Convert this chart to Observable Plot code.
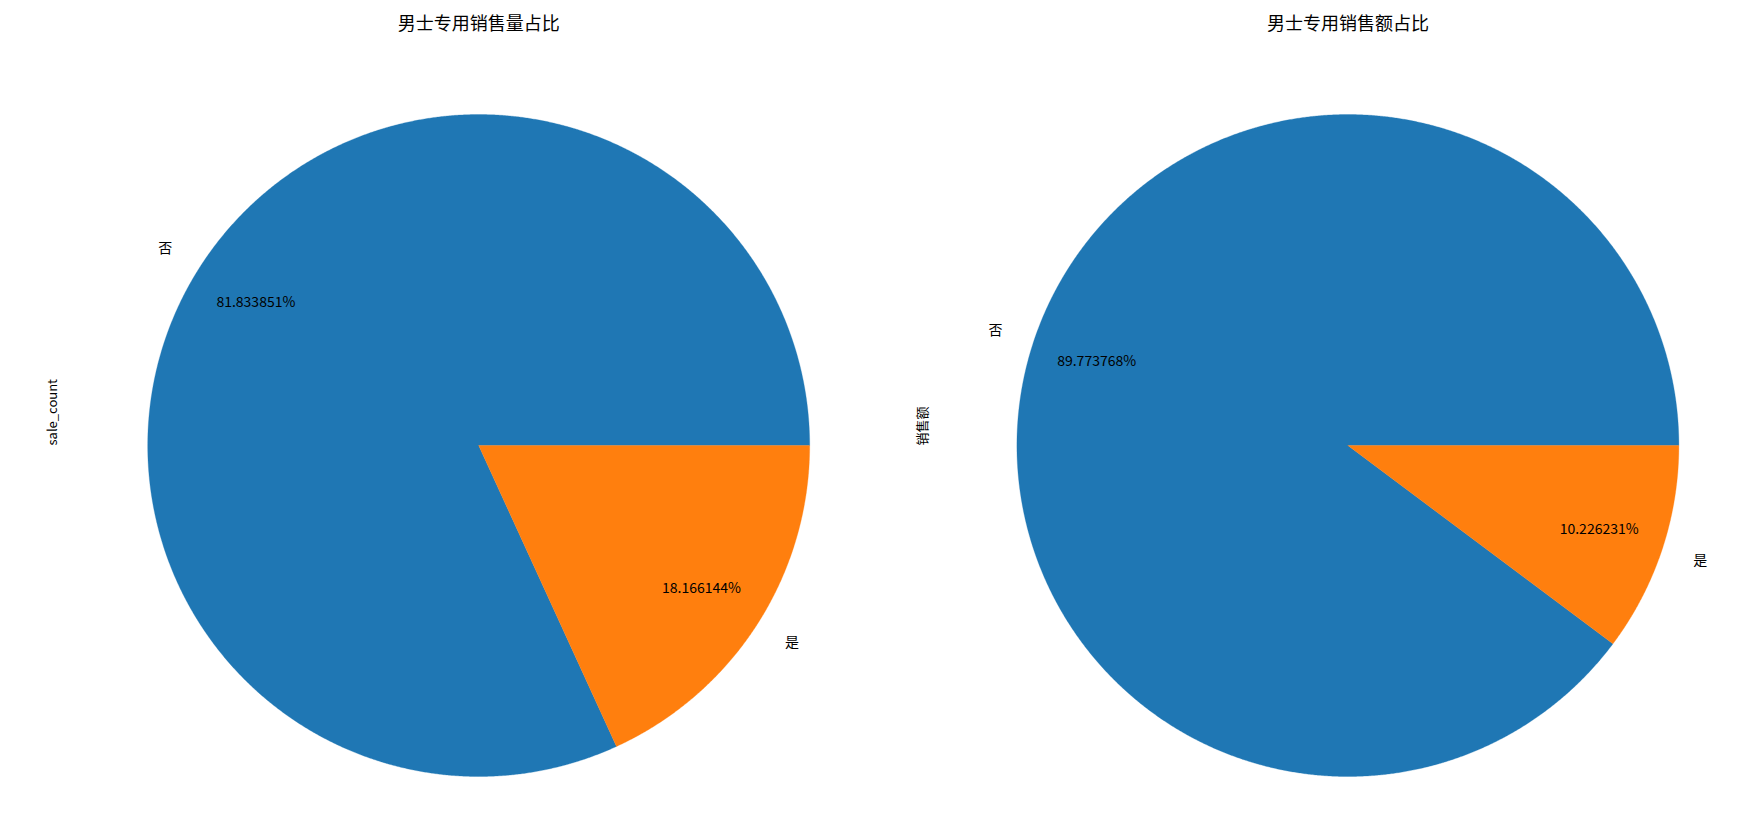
<!DOCTYPE html>
<html>
<head>
<meta charset="utf-8">
<script src="https://cdn.jsdelivr.net/npm/d3@7"></script>
<script src="https://cdn.jsdelivr.net/npm/@observablehq/plot@0.6"></script>
<style>
  html, body { margin: 0; padding: 0; background: #fff; }
  #row { display: flex; flex-direction: row; width: 1746px; height: 821px; }
  #row svg { display: block; }
</style>
</head>
<body>
<div id="row"></div>
<script>
// ---- data ----
const categories = ["否", "是"];
const saleCountPct = [81.833851, 18.166144];
const salesAmountPct = [89.773768, 10.226231];
const sliceColors = ["#1f77b4", "#ff7f0e"];
const titles = ["男士专用销售量占比", "男士专用销售额占比"];
const yLabels = ["sale_count", "销售额"];

const FONT = "'Noto Sans CJK SC', 'DejaVu Sans', sans-serif";

function pieChart({values, title, ylabel, width, height, cx, cy, R, ylabelX}) {
  const total = d3.sum(values);
  // matplotlib: start at 0 rad (east), counter-clockwise
  let acc = 0;
  const slices = values.map((v, i) => {
    const a0 = acc / total * 2 * Math.PI;
    acc += v;
    const a1 = acc / total * 2 * Math.PI;
    return {cat: categories[i], value: v, color: sliceColors[i], a0, a1, mid: (a0 + a1) / 2};
  });
  const pts = [];
  for (const s of slices) {
    pts.push({slice: s.cat, color: s.color, x: 0, y: 0});
    const n = Math.max(4, Math.ceil((s.a1 - s.a0) / 0.004));
    for (let k = 0; k <= n; k++) {
      const a = s.a0 + (s.a1 - s.a0) * k / n;
      pts.push({slice: s.cat, color: s.color, x: Math.cos(a), y: Math.sin(a)});
    }
    pts.push({slice: s.cat, color: s.color, x: 0, y: 0});
  }
  const labels = slices.map(s => ({
    text: s.cat, x: 1.1 * Math.cos(s.mid), y: 1.1 * Math.sin(s.mid),
    anchor: Math.cos(s.mid) > 0 ? "start" : "end"
  }));
  const pcts = slices.map(s => ({
    text: s.value.toFixed(6) + "%",
    x: 0.8 * Math.cos(s.mid), y: 0.8 * Math.sin(s.mid)
  }));
  return Plot.plot({
    width, height,
    margin: 0,
    x: {domain: [-cx / R, (width - cx) / R], axis: null},
    y: {domain: [-(height - cy) / R, cy / R], axis: null},
    color: {type: "identity"},
    style: {fontFamily: FONT, background: "white"},
    marks: [
      Plot.line(pts, {x: "x", y: "y", z: "slice", fill: "color", stroke: "color", strokeWidth: 0.3, curve: "linear"}),
      Plot.text(labels.filter(d => d.anchor === "start"), {x: "x", y: "y", text: "text", textAnchor: "start", fontSize: 14, fill: "black"}),
      Plot.text(labels.filter(d => d.anchor === "end"), {x: "x", y: "y", text: "text", textAnchor: "end", fontSize: 14, fill: "black"}),
      Plot.text(pcts, {x: "x", y: "y", text: "text", fontSize: 14, fill: "black"}),
      Plot.text([title], {x: () => 0, frameAnchor: "top", dy: 17, text: d => d, fontSize: 18, fill: "black"}),
      Plot.text([ylabel], {y: () => 0, frameAnchor: "left", dx: ylabelX, rotate: -90, text: d => d, fontSize: 13, fill: "black"})
    ]
  });
}

const row = document.getElementById("row");
row.appendChild(pieChart({values: saleCountPct, title: titles[0], ylabel: yLabels[0], width: 873, height: 821, cx: 478.2, cy: 445, R: 331, ylabelX: 52}));
row.appendChild(pieChart({values: salesAmountPct, title: titles[1], ylabel: yLabels[1], width: 873, height: 821, cx: 474.4, cy: 445, R: 331, ylabelX: 49}));
</script>
</body>
</html>
